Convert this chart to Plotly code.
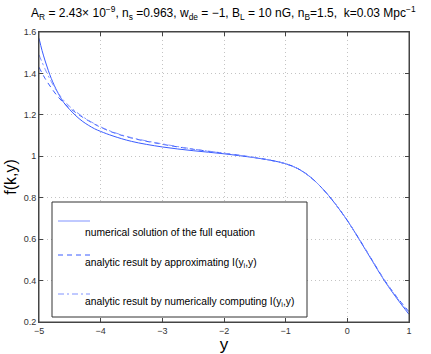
import plotly.graph_objects as go

# data
y_num = [-5, -4.95, -4.9, -4.85, -4.8, -4.7, -4.6, -4.5, -4.4, -4.3, -4.2, -4.1, -4,
         -3.8, -3.5, -3, -2.5, -2, -1.5, -1.25, -1, -0.8, -0.6, -0.4, -0.2,
         0, 0.2, 0.4, 0.6, 0.8, 1]
f_num = [1.57, 1.51, 1.46, 1.415, 1.375, 1.31, 1.26, 1.225, 1.195, 1.17, 1.15, 1.133, 1.12,
         1.098, 1.072, 1.045, 1.027, 1.012, 0.993, 0.981, 0.964, 0.94, 0.9, 0.843, 0.772,
         0.69, 0.595, 0.497, 0.40, 0.315, 0.237]

y_ana = [-5, -4.9, -4.8, -4.7, -4.6, -4.5, -4.4, -4.3, -4.2, -4.1, -4,
         -3.8, -3.5, -3, -2.5, -2, -1.5, -1.25, -1, -0.8, -0.6, -0.4, -0.2,
         0, 0.2, 0.4, 0.6, 0.8, 1]
f_approx = [1.43, 1.375, 1.33, 1.29, 1.258, 1.232, 1.21, 1.19, 1.172, 1.155, 1.14,
            1.115, 1.088, 1.058, 1.034, 1.015, 0.994, 0.981, 0.964, 0.94, 0.9, 0.843, 0.772,
            0.69, 0.597, 0.5, 0.404, 0.322, 0.25]
f_numI = [1.49, 1.42, 1.36, 1.31, 1.27, 1.24, 1.215, 1.193, 1.174, 1.157, 1.142,
          1.117, 1.09, 1.06, 1.035, 1.015, 0.994, 0.981, 0.964, 0.94, 0.9, 0.843, 0.772,
          0.69, 0.596, 0.499, 0.402, 0.319, 0.245]

xticks = [-5, -4, -3, -2, -1, 0, 1]
xlabels = ["\u22125", "\u22124", "\u22123", "\u22122", "\u22121", "0", "1"]
yticks = [0.2, 0.4, 0.6, 0.8, 1.0, 1.2, 1.4, 1.6]
ylabels = ["0.2", "0.4", "0.6", "0.8", "1", "1.2", "1.4", "1.6"]

legend_labels = [
    "numerical solution of the full equation",
    "analytic result by approximating I(y<sub>i</sub>,y)",
    "analytic result by numerically computing I(y<sub>i</sub>,y)",
]

blue = "#3a5cff"
light = "#8093ff"
font = "Liberation Sans, Arial, sans-serif"

fig = go.Figure()
fig.add_trace(go.Scatter(x=y_num, y=f_num, mode="lines", line=dict(color=blue, width=1, shape="spline")))
fig.add_trace(go.Scatter(x=y_ana, y=f_approx, mode="lines",
                         line=dict(color=blue, width=1, dash="5px,4px", shape="spline")))
fig.add_trace(go.Scatter(x=y_ana, y=f_numI, mode="lines",
                         line=dict(color=light, width=1, dash="6px,3px,2px,3px", shape="spline")))

# page body margin is removed in post_script, so figure fills the window
W, H = 431, 354
L, T = 39, 32
pw, ph = 370, 290


def px(x):  # screen pixel -> paper fraction
    return (x - L) / pw


def py(y):
    return (T + ph - y) / ph


# axes frame
fig.add_shape(type="rect", xref="paper", yref="paper", x0=0, x1=1, y0=0, y1=1,
              line=dict(color="#444", width=1), layer="above")

# hand-made legend box (symbol above, text below, like the original)
fig.add_shape(type="rect", xref="paper", yref="paper", x0=px(52), x1=px(307), y0=py(317), y1=py(202),
              line=dict(color="#333", width=1), fillcolor="white", layer="above")
styles = [dict(color=light, width=1), dict(color=blue, width=1, dash="5px,4px"),
          dict(color=light, width=1, dash="6px,3px,2px,3px")]
sym_y = [221, 255, 294]
txt_y = [233, 263, 302]
for lab, st, sy, ty in zip(legend_labels, styles, sym_y, txt_y):
    fig.add_shape(type="line", xref="paper", yref="paper", x0=px(58), x1=px(90), y0=py(sy), y1=py(sy),
                  line=st, layer="above")
    fig.add_annotation(text=lab, xref="paper", yref="paper", x=px(83), y=py(ty), xanchor="left",
                       yanchor="middle", showarrow=False, font=dict(size=10.3, color="black", family=font))

fig.add_annotation(
    text="A<sub>R</sub> = 2.43\u00d7 10<sup>\u22129</sup>, n<sub>s</sub> =0.963, w<sub>de</sub> = \u22121, "
         "B<sub>L</sub> = 10 nG, n<sub>B</sub>=1.5,  k=0.03 Mpc<sup>\u22121</sup>",
    xref="paper", yref="paper", x=px(223), y=py(13), xanchor="center", yanchor="middle",
    showarrow=False, font=dict(size=12, family=font, color="black"),
)

fig.update_layout(
    width=W, height=H,
    margin=dict(l=L, r=W - L - pw, t=T, b=H - T - ph),
    paper_bgcolor="white", plot_bgcolor="white",
    showlegend=False,
    font=dict(family=font, color="black"),
)
axis_common = dict(
    showline=True, mirror="ticks", linecolor="#444", linewidth=1,
    ticks="inside", ticklen=4, tickcolor="#444",
    showgrid=True, gridcolor="#c4c4c4", griddash="1px,3px", gridwidth=1,
    zeroline=False, tickfont=dict(size=9, color="#333", family=font),
    automargin=False,
)
fig.update_xaxes(range=[-5, 1], tickvals=xticks, ticktext=xlabels,
                 title=dict(text="y", font=dict(size=17, family=font), standoff=4), **axis_common)
fig.update_yaxes(range=[0.2, 1.6], tickvals=yticks, ticktext=ylabels,
                 title=dict(text="f(k,y)", font=dict(size=16, family=font), standoff=3), **axis_common)

fig.write_html("out.html", config={"displayModeBar": False},
               post_script="document.body.style.margin='0';")
